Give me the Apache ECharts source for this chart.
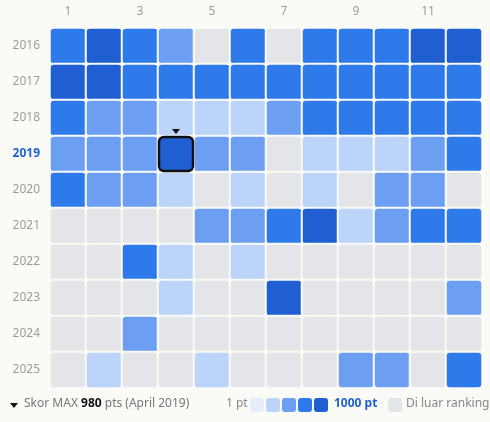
<!DOCTYPE html><html><head><meta charset="utf-8">
<script src="https://cdn.jsdelivr.net/npm/echarts@6/dist/echarts.min.js"></script>
<style>html,body{margin:0;background:#fafaf7}#c{width:490px;height:422px}</style></head><body><div id="c"></div>
<script>
const months=['1','2','3','4','5','6','7','8','9','10','11','12'];
const years=['2016','2017','2018','2019','2020','2021','2022','2023','2024','2025'];
// level 0 = di luar ranking, 1..5 = score buckets
const levels=[
[4,5,4,3,0,4,0,4,4,4,5,5],
[5,5,4,4,4,4,4,4,4,4,4,4],
[4,3,3,2,2,2,3,4,4,4,4,4],
[3,3,3,5,3,3,0,2,2,2,3,4],
[4,3,3,2,0,2,0,2,0,3,3,0],
[0,0,0,0,3,3,4,5,2,3,4,4],
[0,0,4,2,0,2,0,0,0,0,0,0],
[0,0,0,2,0,0,5,0,0,0,0,3],
[0,0,3,0,0,0,0,0,0,0,0,0],
[0,2,0,0,2,0,0,0,3,3,0,4]];
const maxMonth='4', maxYear='2019';
const palette=['#e4e5e9','#e6eefc','#bcd3fa','#6c9ff1','#2e7aea','#1f5fd2'];
const data=[];
levels.forEach((r,yi)=>r.forEach((v,mi)=>data.push([mi,yi,v])));
const ch=echarts.init(document.getElementById('c'));
const font='"Source Sans Pro","Noto Sans",sans-serif';
ch.setOption({
 backgroundColor:'#fafaf7',
 textStyle:{fontFamily:font},
 grid:{left:50,right:8,top:28,bottom:34},
 xAxis:{type:'category',data:months,position:'top',axisLine:{show:false},axisTick:{show:false},splitLine:{show:false},
  axisLabel:{color:'#a09a9a',fontSize:12,margin:10,formatter:v=>v===maxMonth?'{b|'+v+'}':v,rich:{b:{color:'#1f5fd2',fontWeight:'bold',fontSize:12}}}},
 yAxis:{type:'category',data:years,inverse:true,axisLine:{show:false},axisTick:{show:false},splitLine:{show:false},
  axisLabel:{color:'#a09a9a',fontSize:12,margin:10,formatter:v=>v===maxYear?'{b|'+v+'}':v,rich:{b:{color:'#1f5fd2',fontWeight:'bold',fontSize:12}}}},
 visualMap:{show:false,type:'piecewise',dimension:2,pieces:palette.map((c,i)=>({value:i,color:c}))},
 series:[{type:'heatmap',data,itemStyle:{borderColor:'#fafaf7',borderWidth:2,borderRadius:4},emphasis:{disabled:true}}]
});
const p=ch.convertToPixel({xAxisIndex:0,yAxisIndex:0},[months.indexOf(maxMonth),years.indexOf(maxYear)]);
ch.setOption({graphic:[
 {type:'rect',shape:{x:p[0]-17,y:p[1]-17,width:34,height:34,r:5},style:{fill:null,stroke:'#111',lineWidth:2.5},z:100},
 {type:'polygon',shape:{points:[[p[0]-4,p[1]-25],[p[0]+4,p[1]-25],[p[0],p[1]-20]]},style:{fill:'#111'},z:100},
 {type:'polygon',shape:{points:[[10,403],[18,403],[14,408]]},style:{fill:'#111'}},
 {type:'text',x:24,y:398,style:{text:'{a|Skor MAX }{b|980}{a| pts (April 2019)}',rich:{a:{fill:'#777',fontSize:12,fontFamily:font},b:{fill:'#111',fontSize:12,fontWeight:'bold',fontFamily:font}}}},
 {type:'text',x:226,y:398,style:{text:'1 pt',fill:'#888',fontSize:12,fontFamily:font}},
 ...palette.slice(1).map((c,i)=>({type:'rect',shape:{x:250+i*16,y:398,width:14,height:14,r:3},style:{fill:c}})),
 {type:'text',x:334,y:398,style:{text:'1000 pt',fill:'#1f5fd2',fontSize:12,fontWeight:'bold',fontFamily:font}},
 {type:'rect',shape:{x:388,y:398,width:14,height:14,r:3},style:{fill:palette[0]}},
 {type:'text',x:406,y:398,style:{text:'Di luar ranking',fill:'#888',fontSize:12,fontFamily:font}}
]});
</script></body></html>
